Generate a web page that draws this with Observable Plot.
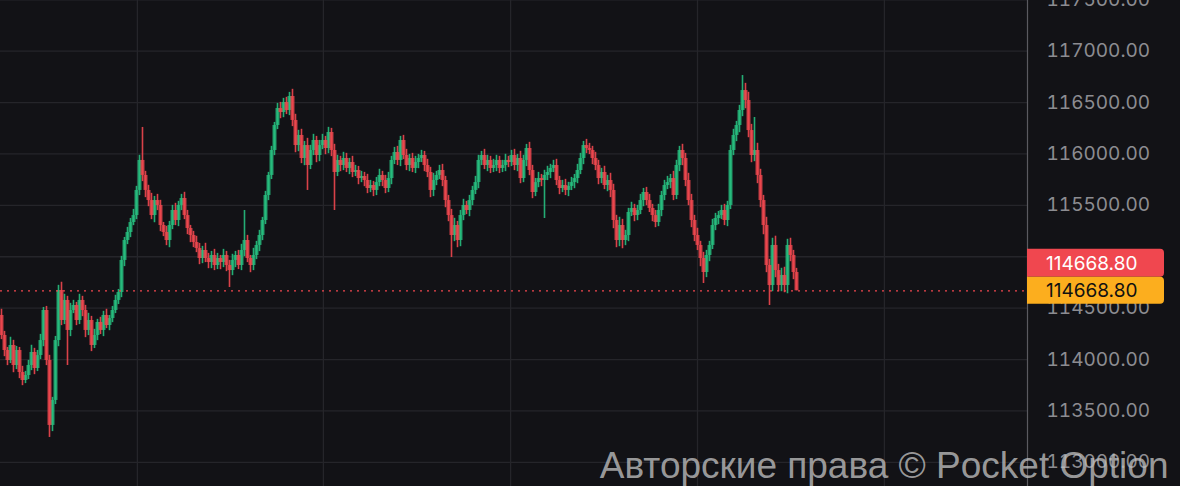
<!DOCTYPE html>
<html><head><meta charset="utf-8">
<script src="https://cdn.jsdelivr.net/npm/d3@7"></script>
<script src="https://cdn.jsdelivr.net/npm/@observablehq/plot@0.6"></script>
<style>
html,body{margin:0;padding:0;background:#121216;overflow:hidden}
#chart svg{display:block}
</style></head><body><div id="chart"></div>
<script>
// ---- data (prices) ----
const firstOpen = 114429;
const closes = [
114234,114088,113991,114137,113942,114088,113874,113796,113845,113942,
114069,113913,114039,114185,114477,113991,113359,113602,114185,114672,
114380,114575,114283,114477,114526,114380,114575,114477,114283,114380,
114137,114234,114361,114283,114429,114331,114399,114477,114575,114652,
114964,115158,115236,115333,115401,115645,115937,115791,115645,115547,
115401,115547,115499,115304,115236,115158,115304,115450,115353,115499,
115567,115401,115275,115207,115139,115080,114983,115061,114983,114944,
115012,114915,114983,114944,115012,114915,114866,114964,115012,114915,
115061,115158,114983,114915,115012,115110,115207,115353,115596,115791,
116034,116277,116442,116403,116501,116423,116559,116326,116082,116180,
115956,116082,115888,116034,116131,115985,116082,116131,116053,116209,
116034,115820,115937,115888,115956,115859,115917,115820,115839,115761,
115781,115742,115664,115693,115645,115722,115791,115742,115664,115761,
115937,116014,115937,116131,115985,115888,115956,115859,115917,115956,
115985,115888,115820,115645,115742,115791,115839,115742,115547,115401,
115207,115304,115158,115401,115499,115450,115547,115645,115722,115937,
115985,115888,115937,115859,115888,115937,115859,115888,115937,115917,
115985,115888,115956,115761,115937,116053,115839,115625,115722,115761,
115742,115791,115820,115859,115888,115742,115664,115693,115645,115684,
115722,115761,115839,115956,116082,116053,116034,115956,115888,115761,
115820,115693,115742,115645,115353,115158,115304,115158,115207,115431,
115470,115401,115450,115547,115625,115547,115470,115401,115333,115450,
115596,115693,115722,115761,115596,115888,116034,115956,115742,115547,
115353,115207,115110,114983,114847,115012,115110,115304,115372,115401,
115450,115353,115499,116034,116180,116277,116423,116617,116520,116228,
115985,116034,115791,115547,115304,114915,114720,115110,114866,114720,
114818,114720,115110,115012,114847,114668.8
];
// estimated short wick lengths (price units) above and below each candle body
const wickUp = [
60,40,30,80,50,40,30,60,40,50, 70,40,50,60,30,40,50,30,40,50,
80,60,40,70,50,30,60,40,50,70, 40,60,30,50,40,60,30,40,50,30,
40,30,50,40,60,40,50,60,40,50, 70,40,60,50,30,60,40,50,70,40,
40,60,50,30,40,60,50,40,70,50, 40,60,50,30,60,40,50,60,40,50,
60,40,50,30,70,40,50,30,40,30, 40,30,50,60,40,50,40,70,60,50,
60,40,70,50,60,40,50,60,40,50, 40,60,50,40,60,50,40,60,50,40,
50,40,60,50,40,50,60,40,50,60, 40,50,60,40,50,60,40,50,60,40,
50,40,60,50,70,40,50,60,40,50, 60,70,40,50,60,40,50,40,60,50,
40,60,50,40,60,50,40,50,60,40, 50,60,40,70,50,40,60,50,40,60,
40,50,60,40,50,60,40,50,60,40, 50,40,60,50,40,60,50,40,60,50,
40,60,50,70,60,50,80,60,50,40, 60,40,50,60,40,50,60,40,50,60,
40,50,60,40,70,50,40,60,50,70, 60,50,70,40,60,50,40,60,50,40,
50,60,40,50,60,40,50,60,70,80, 60,50,70,60,50,80,60,70,90,60,
70,80,60,70,50,40
];
const wickDown = [
40,60,50,30,70,40,60,50,30,40, 50,60,30,40,60,50,70,60,40,60,
50,40,70,60,30,50,40,60,70,50, 60,30,50,40,60,30,50,40,30,40,
50,60,40,50,30,40,50,60,70,60, 40,70,50,60,40,50,70,40,50,60,
50,40,60,70,50,40,60,50,40,60, 60,50,40,70,50,60,40,50,70,40,
50,60,40,70,50,40,60,50,40,50, 40,50,40,60,50,40,50,60,70,60,
50,70,60,40,50,70,60,40,60,50, 60,50,40,60,50,40,60,50,40,60,
40,60,50,40,60,50,40,60,50,40, 60,40,50,60,40,50,60,40,50,60,
40,60,50,70,60,50,40,60,70,60, 50,60,70,60,50,40,60,50,40,60,
50,40,60,50,40,60,50,40,60,50, 40,50,60,50,40,60,50,60,40,50,
60,40,50,60,40,50,60,40,50,60, 40,60,50,40,60,50,40,60,50,60,
50,40,60,70,80,70,60,80,50,60, 40,60,50,40,60,50,40,60,50,40,
60,50,40,60,50,40,60,70,60,50, 70,60,50,80,60,50,60,40,50,60,
40,50,60,40,50,60,70,60,80,70, 70,60,80,70,90,70,80,60,70,60,
60,70,80,60,70,50
];
// long wicks that stand out in the picture
const wickIndex = [16, 19, 22, 47, 76, 81, 96, 102, 111, 150, 181, 205, 234, 247, 251, 256];
const wickPrice = [113242, 114720, 113942, 116258, 114701, 115450, 116598, 115645, 115450, 114993, 115372, 115090, 114740, 116763, 116355, 114526];
const gridTimes = [45.3, 107.3, 169.7, 232, 294.3];
const priceTicks = [113000, 113500, 114000, 114500, 115000, 115500, 116000, 116500, 117000, 117500];
const lastPrice = 114668.80;
const watermark = "Авторские права © Pocket Option";

// ---- styling ----
const BG = "#121216", GRID = "#25252a", GREEN = "#27bf7f", RED = "#f0474f", YELLOW = "#fcae1e";

const candles = closes.map((c, i) => {
  const open = i === 0 ? firstOpen : closes[i - 1];
  let high = Math.max(open, c) + wickUp[i];
  let low = Math.min(open, c) - wickDown[i];
  const k = wickIndex.indexOf(i);
  if (k >= 0) { if (wickPrice[k] > high) high = wickPrice[k]; if (wickPrice[k] < low) low = wickPrice[k]; }
  if (i === closes.length - 1) low = c; // last candle still forming
  return {i, open, close: c, high, low, up: c >= open};
});

const chart = Plot.plot({
  width: 1180, height: 486,
  marginLeft: 0, marginRight: 153, marginTop: 0, marginBottom: 0,
  style: {background: BG, fontFamily: "Inter, 'Noto Sans', sans-serif", overflow: "hidden"},
  x: {domain: [-0.33, 342], axis: null},
  y: {domain: [112765, 117493], axis: null},
  marks: [
    Plot.ruleY(priceTicks, {stroke: GRID, strokeWidth: 1.3}),
    Plot.ruleX(gridTimes, {stroke: GRID, strokeWidth: 1.3}),
    Plot.ruleX(candles.filter(d => d.up), {x: "i", y1: "low", y2: "high", stroke: GREEN, strokeWidth: 1.6, strokeOpacity: 0.9}),
    Plot.ruleX(candles.filter(d => !d.up), {x: "i", y1: "low", y2: "high", stroke: RED, strokeWidth: 1.6, strokeOpacity: 0.9}),
    Plot.ruleX(candles.filter(d => d.up), {x: "i", y1: "open", y2: "close", stroke: GREEN, strokeWidth: 4, strokeOpacity: 0.8}),
    Plot.ruleX(candles.filter(d => !d.up), {x: "i", y1: "open", y2: "close", stroke: RED, strokeWidth: 4, strokeOpacity: 0.8}),
    Plot.ruleY([lastPrice], {stroke: RED, strokeDasharray: "2,5", strokeWidth: 1.3}),
    Plot.ruleX([342], {stroke: "#5a5a60", strokeWidth: 1.2}),
    Plot.axisY(priceTicks, {anchor: "right", tickSize: 0, tickPadding: 19, label: null,
      tickFormat: d => d.toFixed(2), fontSize: 19, fill: "#8c8c91", textAnchor: "start"}),
    Plot.text([watermark], {frameAnchor: "bottom-right", dx: 141, dy: -9, text: d => d,
      textAnchor: "end", lineAnchor: "bottom", fontSize: 37, fill: "#bdbdbd", fillOpacity: 0.8,
      fontFamily: "'Liberation Sans', Arial, sans-serif"})
  ]
});
document.getElementById("chart").appendChild(chart);

// price labels on the right axis, placed through the y scale
const yS = chart.scale("y");
const yp = yS.apply(lastPrice);
const svg = d3.select(chart);
const boxes = [
  {cy: yp - 27.5, h: 28, fill: RED, text: "#ffffff"},
  {cy: yp, h: 27, fill: YELLOW, text: "#111111"}
];
const g = svg.append("g");
boxes.forEach(b => {
  g.append("path")
    .attr("d", `M1027,${b.cy - b.h/2} H1160 a4,4 0 0 1 4,4 V${b.cy + b.h/2 - 4} a4,4 0 0 1 -4,4 H1027 Z`)
    .attr("fill", b.fill);
  g.append("text").attr("x", 1046).attr("y", b.cy).attr("dy", "0.36em")
    .attr("text-anchor", "start")
    .attr("font-size", 19).attr("font-family", "Inter, sans-serif").attr("fill", b.text)
    .text(lastPrice.toFixed(2));
});
// move watermark on top
svg.selectAll("text").filter(function(){ return this.textContent === watermark; }).each(function(){ chart.appendChild(this.parentNode); });
</script>
</body></html>
